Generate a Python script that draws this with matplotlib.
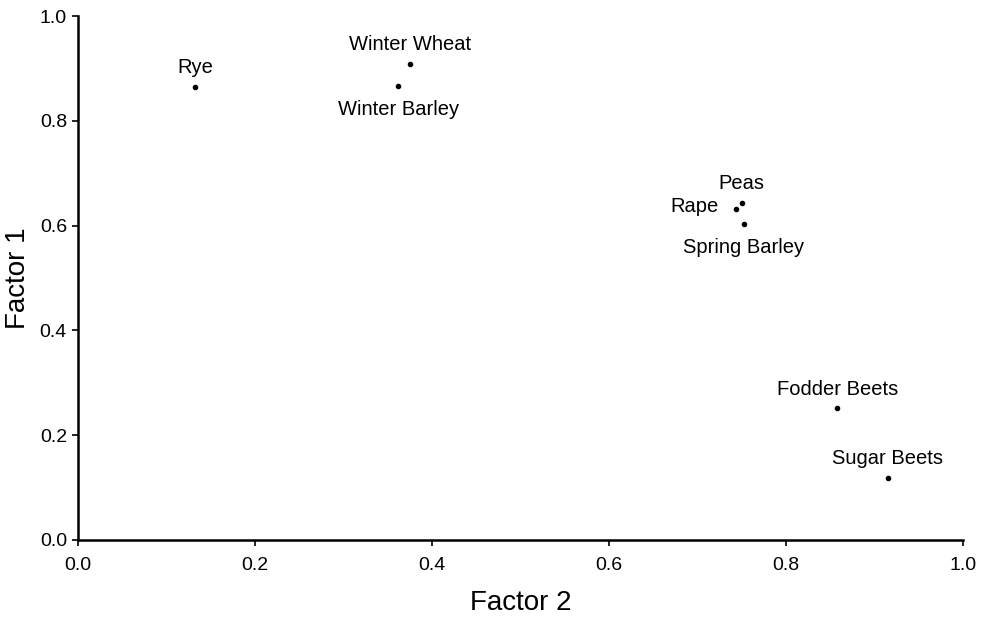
import matplotlib
matplotlib.use("Agg")
import matplotlib.pyplot as plt

crops = ["Rye", "Winter Wheat", "Winter Barley", "Peas", "Rape",
         "Spring Barley", "Fodder Beets", "Sugar Beets"]
factor2 = [0.132, 0.375, 0.362, 0.750, 0.744, 0.752, 0.858, 0.915]
factor1 = [0.865, 0.908, 0.866, 0.644, 0.631, 0.604, 0.251, 0.119]
label_pos = ["above", "above", "below", "above", "left", "below", "above", "above"]
ticks = [0.0, 0.2, 0.4, 0.6, 0.8, 1.0]
tick_labels = ["0.0", "0.2", "0.4", "0.6", "0.8", "1.0"]

plt.rcParams['font.family'] = ['Liberation Sans', 'DejaVu Sans']

fig = plt.figure(figsize=(9.81, 6.17), dpi=100)
ax = fig.add_axes([0.0795, 0.1248, 0.9022, 0.8492])
ax.scatter(factor2, factor1, s=9, color="black", zorder=3, clip_on=False)

for name, x, y, pos in zip(crops, factor2, factor1, label_pos):
    if pos == "above":
        ax.annotate(name, (x, y), xytext=(0, 14), textcoords="offset points",
                    ha="center", va="center", fontsize=14.5)
    elif pos == "below":
        ax.annotate(name, (x, y), xytext=(0, -17), textcoords="offset points",
                    ha="center", va="center", fontsize=14.5)
    else:
        ax.annotate(name, (x, y), xytext=(-13, 2), textcoords="offset points",
                    ha="right", va="center", fontsize=14.5)

ax.set_xlim(0, 1)
ax.set_ylim(0, 1)
ax.set_xticks(ticks)
ax.set_xticklabels(tick_labels)
ax.set_yticks(ticks)
ax.set_yticklabels(tick_labels)
ax.tick_params(axis="both", direction="out", length=4, width=1.2, labelsize=14)
ax.tick_params(axis="x", pad=8)
ax.tick_params(axis="y", pad=4)
for s in ["top", "right"]:
    ax.spines[s].set_visible(False)
for s in ["left", "bottom"]:
    ax.spines[s].set_linewidth(1.8)
ax.set_xlabel("Factor 2", fontsize=20, labelpad=12)
ax.set_ylabel("Factor 1", fontsize=20, labelpad=6)

fig.savefig("out.png", dpi=100)
